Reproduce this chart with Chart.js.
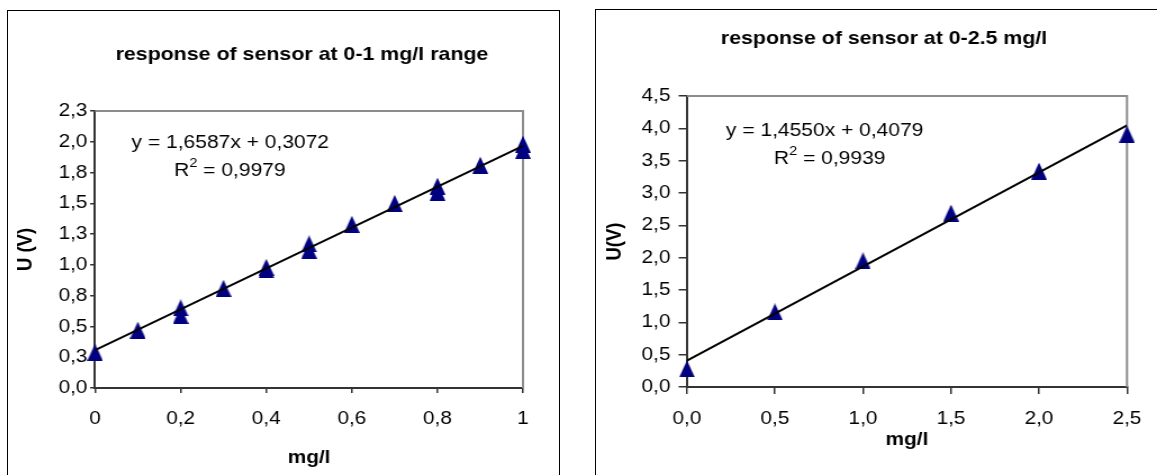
<!DOCTYPE html>
<html><head><meta charset="utf-8">
<script src="https://cdn.jsdelivr.net/npm/chart.js@4.4.1/dist/chart.umd.min.js"></script>
<style>
html,body{margin:0;padding:0;background:#fff;overflow:hidden;width:1157px;height:475px;}
.box{position:absolute;border:1px solid #000;background:#fff;}
#b1{left:7px;top:10px;width:551px;height:480px;}
#b2{left:595px;top:9px;width:600px;height:480px;}
canvas{display:block;}
</style></head><body>
<div class="box" id="b1"><canvas id="c1" width="490" height="464" style="width:551px;height:464px"></canvas></div>
<div class="box" id="b2"><canvas id="c2" width="507" height="465" style="width:570px;height:465px"></canvas></div>
<script>
// ---------- data: left chart ----------
const leftTitle = 'response of sensor at 0-1 mg/l range';
const leftConc = [0, 0.1, 0.2, 0.2, 0.3, 0.4, 0.4, 0.5, 0.5, 0.6, 0.7, 0.8, 0.8, 0.9, 1.0, 1.0];
const leftVolt = [0.29, 0.47, 0.65, 0.59, 0.81, 0.98, 0.96, 1.17, 1.12, 1.33, 1.50, 1.64, 1.59, 1.81, 1.98, 1.93];
const leftXTicks = [0, 0.2, 0.4, 0.6, 0.8, 1];
const leftXTickLabels = ['0', '0,2', '0,4', '0,6', '0,8', '1'];
const leftYTicks = [0, 0.25, 0.5, 0.75, 1, 1.25, 1.5, 1.75, 2, 2.25];
const leftYTickLabels = ['0,0', '0,3', '0,5', '0,8', '1,0', '1,3', '1,5', '1,8', '2,0', '2,3'];
const leftSlope = 1.6587;
const leftIntercept = 0.3072;
const leftEquation = 'y = 1,6587x + 0,3072';
const leftR2 = '0,9979';
const leftYTitle = 'U (V)';
const leftXTitle = 'mg/l';

// ---------- data: right chart ----------
const rightTitle = 'response of sensor at 0-2.5 mg/l';
const rightConc = [0, 0.5, 1.0, 1.5, 2.0, 2.5];
const rightVolt = [0.28, 1.16, 1.95, 2.69, 3.34, 3.91];
const rightXTicks = [0, 0.5, 1, 1.5, 2, 2.5];
const rightXTickLabels = ['0,0', '0,5', '1,0', '1,5', '2,0', '2,5'];
const rightYTicks = [0, 0.5, 1, 1.5, 2, 2.5, 3, 3.5, 4, 4.5];
const rightYTickLabels = ['0,0', '0,5', '1,0', '1,5', '2,0', '2,5', '3,0', '3,5', '4,0', '4,5'];
const rightSlope = 1.4550;
const rightIntercept = 0.4079;
const rightEquation = 'y = 1,4550x + 0,4079';
const rightR2 = '0,9939';
const rightYTitle = 'U(V)';
const rightXTitle = 'mg/l';

const FONT = '"Liberation Sans", Arial, Helvetica, sans-serif';
Chart.defaults.font.family = FONT;
Chart.defaults.color = '#000';

function triangleMarker(w, h, color) {
  const c = document.createElement('canvas');
  c.width = w; c.height = h;
  const g = c.getContext('2d');
  g.fillStyle = color;
  g.beginPath();
  g.moveTo(w / 2, 0);
  g.lineTo(w, h);
  g.lineTo(0, h);
  g.closePath();
  g.fill();
  return c;
}

const framePlugin = {
  id: 'plotFrame',
  beforeDatasetsDraw(chart) {
    const {ctx, chartArea: a} = chart;
    ctx.save();
    ctx.strokeStyle = '#8c8c8c';
    ctx.lineWidth = 2;
    ctx.beginPath();
    ctx.moveTo(a.left, a.top);
    ctx.lineTo(a.right, a.top);
    ctx.lineTo(a.right, a.bottom);
    ctx.stroke();
    ctx.restore();
  }
};

const textPlugin = {
  id: 'sensorText',
  afterDraw(chart, args, o) {
    const {ctx} = chart;
    const sx = chart.scales.x, sy = chart.scales.y;
    ctx.save();
    ctx.fillStyle = '#000';
    ctx.textBaseline = 'middle';
    ctx.font = 'bold 19px ' + FONT;
    ctx.textAlign = 'center';
    ctx.fillText(o.title, o.titleX, o.titleY);
    ctx.textAlign = 'left';
    ctx.font = '18.7px ' + FONT;
    ctx.fillText(o.eq, sx.getPixelForValue(o.eqX), sy.getPixelForValue(o.eqY));
    const rx = sx.getPixelForValue(o.r2X), ry = sy.getPixelForValue(o.r2Y);
    ctx.fillText('R', rx, ry);
    const wR = ctx.measureText('R').width;
    ctx.font = '13px ' + FONT;
    ctx.fillText('2', rx + wR, ry - 7.5);
    const w2 = ctx.measureText('2').width;
    ctx.font = '18.7px ' + FONT;
    ctx.fillText(' = ' + o.r2, rx + wR + w2, ry);
    ctx.restore();
  }
};

function build(id, d, L) {
  const marker = triangleMarker(14, 17, '#000080');
  const xLast = Math.max(...d.conc);
  const xFirst = Math.min(...d.conc);
  return new Chart(document.getElementById(id), {
    type: 'scatter',
    data: {
      datasets: [
        {
          label: 'trend', type: 'line', order: 0,
          data: [{x: xFirst, y: d.slope * xFirst + d.intercept}, {x: xLast, y: d.slope * xLast + d.intercept}],
          borderColor: '#000', borderWidth: 2, pointRadius: 0, showLine: true, fill: false
        },
        {
          label: 'U', order: 1,
          data: d.conc.map((x, i) => ({x: x, y: d.volt[i]})),
          pointStyle: marker, pointRadius: 8, clip: false,
          backgroundColor: '#000080', borderColor: '#000080'
        }
      ]
    },
    options: {
      responsive: false, devicePixelRatio: 1, animation: false,
      layout: {padding: {top: L.padTop, right: L.padRight, left: 0, bottom: 0}},
      plugins: {
        legend: {display: false}, tooltip: {enabled: false}, title: {display: false},
        sensorText: {
          title: d.title, titleX: L.titleX, titleY: L.titleY,
          eq: d.eq, eqX: L.eqX, eqY: L.eqY, r2: d.r2, r2X: L.r2X, r2Y: L.r2Y
        }
      },
      scales: {
        x: {
          type: 'linear', position: 'bottom', min: d.xTicks[0], max: d.xTicks[d.xTicks.length - 1],
          afterBuildTicks: s => { s.ticks = d.xTicks.map(v => ({value: v})); },
          afterFit: s => { s.height = L.xH; },
          ticks: {callback: (v, i) => d.xLabels[i], padding: L.xPad, font: {size: 18.5}, color: '#000', maxRotation: 0, autoSkip: false},
          grid: {drawOnChartArea: false, drawTicks: true, tickLength: L.xTick, color: '#333', lineWidth: 1.5},
          border: {color: '#333', width: 2},
          title: {display: true, text: d.xTitle, font: {size: 18.5, weight: 'bold'}, color: '#000', padding: {top: 0, bottom: L.xTitlePad}}
        },
        y: {
          type: 'linear', position: 'left', min: d.yTicks[0], max: d.yTicks[d.yTicks.length - 1],
          afterBuildTicks: s => { s.ticks = d.yTicks.map(v => ({value: v})); },
          afterFit: s => { s.width = L.yW; },
          ticks: {callback: (v, i) => d.yLabels[i], padding: L.yPad, font: {size: 18.5}, color: '#000', autoSkip: false},
          grid: {drawOnChartArea: false, drawTicks: true, tickLength: L.yTick, color: '#333', lineWidth: 1.5},
          border: {color: '#333', width: 2},
          title: {display: true, text: d.yTitle, font: {size: 18.5, weight: 'bold'}, color: '#000', padding: {top: L.yTitlePad, bottom: 0}}
        }
      }
    },
    plugins: [framePlugin, textPlugin]
  });
}

build('c1', {
  title: leftTitle, conc: leftConc, volt: leftVolt,
  xTicks: leftXTicks, xLabels: leftXTickLabels, yTicks: leftYTicks, yLabels: leftYTickLabels,
  slope: leftSlope, intercept: leftIntercept, eq: leftEquation, r2: leftR2,
  xTitle: leftXTitle, yTitle: leftYTitle
}, {
  padTop: 100, padRight: 32, yW: 77.4, xH: 87, yTick: 4.4, yPad: 2.4, xTick: 5, xPad: 15,
  yTitlePad: 5, xTitlePad: 6, titleX: 261.4, titleY: 43.4,
  eqX: 0.0853, eqY: 1.99, r2X: 0.1846, r2Y: 1.763
});

build('c2', {
  title: rightTitle, conc: rightConc, volt: rightVolt,
  xTicks: rightXTicks, xLabels: rightXTickLabels, yTicks: rightYTicks, yLabels: rightYTickLabels,
  slope: rightSlope, intercept: rightIntercept, eq: rightEquation, r2: rightR2,
  xTitle: rightXTitle, yTitle: rightYTitle
}, {
  padTop: 86, padRight: 34.7, yW: 80.9, xH: 88, yTick: 7.4, yPad: 7.3, xTick: 7, xPad: 14,
  yTitlePad: 5.9, xTitlePad: 24, titleX: 256.2, titleY: 28.4,
  eqX: 0.2216, eqY: 3.966, r2X: 0.494, r2Y: 3.533
});
</script>
</body></html>
